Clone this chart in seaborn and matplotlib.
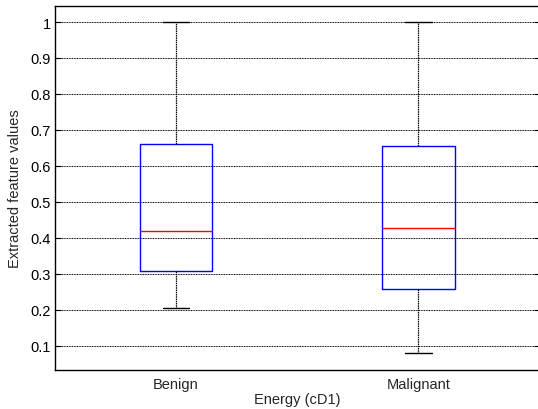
import numpy as np
import pandas as pd
import matplotlib
matplotlib.use("Agg")
import matplotlib.pyplot as plt
import seaborn as sns

# five-number summaries (min, q1, median, q3, max)
groups = ["Benign", "Malignant"]
benign = [0.205, 0.308, 0.420, 0.662, 1.0]
malignant = [0.081, 0.258, 0.426, 0.656, 1.0]

df = pd.DataFrame({
    "group": ["Benign"] * len(benign) + ["Malignant"] * len(malignant),
    "value": benign + malignant,
})

sns.set_style("white")
plt.rcParams["font.family"] = ["Liberation Sans", "DejaVu Sans"]
fs = 10.5

fig = plt.figure(figsize=(5.38, 4.10), dpi=100)
ax = fig.add_axes([55 / 538, 39.3 / 410, 484.5 / 538, 363.7 / 410])

sns.boxplot(
    data=df, x="group", y="value", order=groups, ax=ax,
    width=0.3, whis=np.inf, fill=False, linecolor="blue",
    boxprops=dict(color="blue", linewidth=1.0),
    medianprops=dict(color="red", linewidth=1.0),
    whiskerprops=dict(color="black", linewidth=0.9, linestyle=(0, (1.2, 0.6))),
    capprops=dict(color="black", linewidth=1.0),
    capwidths=0.11,
)

ax.set_xlim(-0.5, 1.5)
ax.set_ylim(0.0333, 1.0445)
ax.set_yticks(np.arange(0.1, 1.01, 0.1))
ax.set_yticklabels(["0.1", "0.2", "0.3", "0.4", "0.5", "0.6", "0.7", "0.8", "0.9", "1"])

ax.grid(True, axis="y", color="black", linewidth=0.7, linestyle=(0, (1, 0.7)))
ax.set_axisbelow(True)

for s in ax.spines.values():
    s.set_color("black")
    s.set_linewidth(1.0)

ax.tick_params(axis="y", direction="in", length=4, left=True, right=True,
               colors="black", labelsize=fs, pad=3)
ax.tick_params(axis="x", length=0, labelsize=fs, pad=5)

ax.set_xlabel("Energy (cD1)", fontsize=fs, labelpad=1)
ax.set_ylabel("Extracted feature values", fontsize=fs, labelpad=6)

fig.savefig("out.png", dpi=100)
plt.close()
